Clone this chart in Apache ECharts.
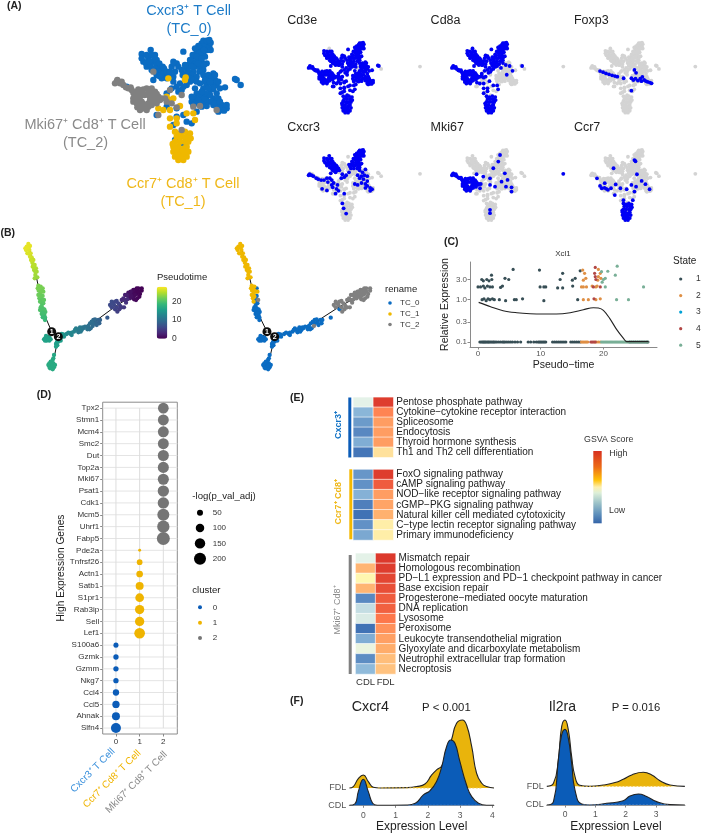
<!DOCTYPE html>
<html><head><meta charset="utf-8">
<script src="https://cdn.jsdelivr.net/npm/echarts@6/dist/echarts.min.js"></script>
<style>html,body{margin:0;padding:0;background:#fff;overflow:hidden}#c{width:709px;height:834px}</style>
</head><body><div id="c"></div>
<script>
// ---------- Panel A: UMAP embedding (UMAP units) ----------
const tc0Top=[[615,125],[625,130],[605,130],[615,140],[600,145],[622,150],[590,155],[610,160],[600,170],[585,170],[615,170],[590,185],[575,185],[605,185],[565,195],[585,200],[600,200],[620,190],[570,180],[560,205],[580,215],[610,210],[628,140],[595,138],[578,165],[598,215],[610,122],[620,122],[632,128],[600,158],[612,150],[590,170],[605,175],[575,200],[595,190],[612,195],[565,215],[555,195],[632,150],[585,145],[628,120]];
const tc0UpperLeft=[[425,162],[452,150],[465,165],[430,185],[445,175],[460,185],[440,200],[470,195],[455,210],[480,205],[490,215],[470,225],[485,235],[495,225],[460,240],[470,180],[505,225],[478,190],[488,200],[440,165],[455,165],[425,175],[438,190],[452,195],[465,205],[475,215],[485,222],[478,228],[492,205],[500,215],[465,215],[448,185],[462,170]];
const tc0Center=[[520,185],[530,190],[515,200],[525,215],[550,155],[545,210],[560,220],[575,225],[590,230],[570,245],[540,250],[555,235],[545,270],[530,260],[520,245],[500,235],[515,265],[380,260],[500,280],[522,190],[535,200],[548,225],[565,232],[580,240],[560,255],[535,275],[550,260],[520,230],[510,215]];
const tc0Right=[[640,220],[625,235],[610,225],[635,250],[650,255],[620,255],[600,250],[590,280],[610,265],[630,270],[650,280],[640,295],[620,290],[600,300],[585,295],[575,305],[610,310],[625,305],[650,305],[665,315],[675,322],[665,330],[650,320],[640,315],[680,325],[600,285],[660,265],[675,262],[645,240],[710,240],[722,255],[705,237],[615,245],[585,265],[630,285],[612,295],[640,268],[655,295],[625,225],[635,232],[645,225],[655,245],[640,262],[625,265],[615,280],[605,275],[595,300],[590,310],[605,320],[620,318],[635,305],[645,310],[660,305],[670,318],[680,315],[658,322],[672,332],[655,335],[615,240],[630,245],[590,245],[575,290],[580,315]];
const tc0Low=[[575,370],[560,365],[550,345],[530,350],[520,375],[545,430],[525,420],[590,335],[500,320],[530,325],[470,345]];
const tc1Stem=[[535,480],[550,480],[525,470],[545,470],[560,470],[520,455],[535,455],[550,460],[565,455],[520,440],[535,440],[552,445],[560,440],[525,425],[565,425],[555,425],[560,410],[570,400],[545,410],[530,410],[555,395],[525,395],[540,400],[572,415],[518,432],[540,468],[530,462],[548,452],[528,448],[540,425]];
const tc1Mid=[[510,380],[530,370],[510,355],[530,355],[560,340],[580,340],[555,240],[557,232],[510,300],[520,295],[500,290],[475,325],[490,330],[510,330],[540,318],[585,360],[505,235]];
const tc2Arm=[[350,245],[360,250],[345,250],[370,255],[385,265],[395,270],[410,275],[425,275],[440,265],[455,265],[465,275],[475,290],[465,300],[445,285],[420,290],[400,295],[410,310],[430,312],[445,320],[420,330],[440,330],[455,315],[470,310],[480,300],[495,295],[410,285],[425,305],[412,322],[458,290],[450,270],[403,282],[433,285],[352,240],[365,245],[378,262],[392,262],[400,278],[415,268],[430,268],[445,272],[460,282],[470,282],[405,300],[400,305],[415,300],[415,315],[430,325],[445,310],[450,300],[437,320],[425,322],[455,305],[468,290],[485,295]];
const tc2Scatter=[[500,305],[515,310],[510,270],[545,285],[580,320],[600,318],[650,330],[475,345],[545,390],[460,215],[530,322]];
const umapLone=[[924,243]];
const umapTC0=[...tc0Top,...tc0UpperLeft,...tc0Center,...tc0Right,...tc0Low];
const umapTC1=[...tc1Stem,...tc1Mid];
const umapTC2=[...tc2Arm,...tc2Scatter];
const umapAll=[...umapTC0,...umapTC1,...umapTC2];
const cd8aExpr=[...tc0Top,...tc0UpperLeft,...tc0Center,...tc2Arm,...tc1Stem,...tc1Mid,[645,240],[660,265],[610,225],[625,235],[590,230],[600,250],[710,240],[630,285]];
const foxp3Expr=[[395,266],[412,272],[428,278],[445,283],[462,288],[478,292],[491,295],[526,303],[586,260],[595,275],[569,367],[569,303],[580,312],[592,305],[605,315],[618,305],[630,296],[640,312],[650,318],[660,322],[672,325],[681,329],[625,318]];
const cxcr3Expr=[...tc0Top,...tc0UpperLeft,...tc2Arm.slice(0,14),[415,320],[440,328],[470,312],[495,300],[540,250],[555,235],[520,245],[530,260],[515,265],[625,235],[610,225],[640,220],[650,255],[620,255],[635,250],[600,250],[610,265],[630,270],[650,280],[640,295],[620,290],[600,300],[585,295],[650,305],[665,315],[675,322],[665,330],[640,315],[500,330],[490,320],[530,345],[485,345],[520,395],[527,420],[540,447]];
const mki67Expr=[...tc2Arm,[595,146],[586,180],[560,214],[620,240],[543,266],[508,257],[473,245],[634,274],[603,283],[655,312],[626,309],[655,334],[543,300],[569,309],[543,428],[543,445],[491,317]];
const ccr7Expr=[...tc1Stem,[586,172],[592,178],[470,214],[600,245],[378,266],[421,291],[482,297],[439,325],[404,317],[456,317],[508,317],[543,322],[569,300],[595,309],[586,334],[626,279],[647,296],[670,322],[477,352],[577,378],[525,378],[420,315],[430,320],[395,305]];
const cd3eOff=[[452,150],[490,215],[722,255],[600,250]];
const cd3eExpr=umapAll.filter(p=>!cd3eOff.some(o=>o[0]===p[0]&&o[1]===p[1]));

// ---------- Panel B: trajectory [x, y, pseudotime, cluster] ----------
const trajectoryCells=[[85,72,27,1],[80,80,27,1],[90,78,27,1],[78,90,26.8,1],[88,90,26.7,1],[82,100,26.5,1],[92,100,26.4,1],[95,112,26,1],[100,120,25.6,1],[97,128,25.3,1],[104,135,25,1],[108,145,24.6,1],[102,150,24.5,1],[110,155,24.2,1],[106,165,24,1],[112,172,23.6,1],[115,197,22.5,1],[122,200,22.3,1],[128,205,22.2,0],[116,212,22,1],[130,215,21.9,1],[120,222,21.7,1],[128,228,21.5,0],[118,235,21.2,1],[132,240,21,2],[125,248,20.6,0],[122,262,20.2,0],[130,270,20,0],[125,282,19.5,0],[133,285,19.3,0],[128,292,19,0],[135,300,18.8,0],[122,212,22,1],[136,276,19.8,0],[124,270,20.1,0],
[84,82,27,1],[76,85,27,1],[86,100,26.5,1],[90,110,26.2,1],[93,120,25.8,1],[98,140,25,1],[102,142,24.8,1],[106,155,24.3,1],[100,135,25.1,1],[104,175,23.8,1],[113,205,22.4,1],[118,205,22.3,1],[125,215,22,1],[115,225,21.7,1],[122,230,21.5,1],[127,240,21,0],[120,245,20.8,1],[130,250,20.6,0],[125,258,20.3,0],[128,265,20.1,0],[120,270,20,0],[133,268,20,0],[127,278,19.6,0],[135,292,19,0],[130,280,19.5,0],
[140,350,16,0],[135,355,16,0],[148,352,16,0],[140,362,16,0],[148,362,16,0],[135,362,16,0],[142,355,16,0],[138,348,16,0],[145,358,16,0],[152,358,16,0],[132,358,16,0],
[180,345,15,0],[185,350,15,0],[190,343,14.5,0],[172,360,15.5,0],[180,358,15.3,0],[170,368,15.5,0],[178,352,15,0],[185,342,15,0],[192,350,14.6,0],[175,365,15.5,0],[182,362,15.4,0],[168,372,15.6,0],[172,376,15.7,0],
[168,380,16,0],[162,405,16.5,0],[160,415,16.8,0],[155,430,17,0],[150,435,17,0],[160,430,17,0],[153,442,17,0],[162,442,17,0],[148,440,17,0],[158,420,16.9,0],[152,425,17,0],[148,430,17,0],[158,438,17,0],[145,435,17,0],[150,445,17,0],[158,448,17,0],[165,435,17,0],
[200,342,13.5,0],[212,342,13,0],[222,335,12.5,0],[232,330,12,0],[240,322,11.5,0],[245,330,11.3,0],[235,337,11.6,0],[228,325,12,0],[250,325,11,0],[262,322,10.5,0],[270,310,10,0],[280,300,9.6,0],[278,318,9.7,2],[268,328,10,0],[288,308,9.2,0],[295,300,9,0],[298,310,8.8,0],[322,293,8,0],[205,338,13.3,0],[215,338,12.9,0],[225,330,12.3,0],[238,328,11.7,0],[242,335,11.4,0],[248,322,11,0],[255,320,10.8,0],[265,318,10.3,0],[272,325,10,0],[280,312,9.7,0],[285,298,9.4,0],[275,305,9.9,0],[290,315,9.2,0],[300,300,8.8,0],[262,328,10.5,0],[215,345,12.9,0],
[335,245,6.5,2],[342,255,6,2],[350,243,5.8,2],[330,255,6.3,2],[345,268,5.5,0],[360,258,5,2],[352,275,5.2,2],[372,262,4.5,2],[375,240,4,2],[385,230,3,2],[395,215,1,2],[405,210,.5,2],[415,205,.3,2],[425,212,.2,2],[410,222,.5,2],[398,228,1,2],[390,235,1.5,2],[402,238,.8,2],[412,235,.5,2],[385,218,1.5,2],[420,222,.2,2],[375,225,2.5,2],[365,240,3.5,2],[400,220,.7,2],[390,222,1.2,2],[408,215,.4,2],[400,232,.9,2],[338,250,6.3,2],[345,245,6,2],[355,250,5.6,2],[335,262,6,2],[350,262,5.6,2],[358,268,5,2],[365,262,4.8,2],[378,248,4,2],[382,238,3.3,2],[390,225,1.6,2],[395,228,1.2,2],[405,225,.7,2],[415,215,.3,2],[400,210,.6,2],[410,205,.4,2],[425,205,.1,2],[418,230,.3,2],[408,240,.6,2],[392,215,1.3,2],[380,225,2.4,2],[370,235,3.2,2]];
const treeMain=[[85,72],[110,175],[125,250],[140,300],[155,335],[175,350],[210,340],[280,308],[345,260],[400,225]];
const treeBranchDown=[[175,350],[165,400],[155,435]];
const treeBranchStub=[[155,335],[140,355]];
const branchNodes=[[155,335,'1'],[175,350,'2']];
const viridis=['#440154','#482878','#3E4A89','#31688E','#26828E','#1F9E89','#35B779','#6DCD59','#B4DE2C','#FDE725'];

// ---------- Panel C: Xcl1 expression against pseudo-time ----------
const state1LowX=[.3,.5,.7,.85,1,1.15,1.3,1.5,1.65,1.8,2,2.2,2.4,2.55,2.75,3,3.3,3.6,3.9,4.1,4.3,4.6,4.9,5.2,5.5,5.9,6.3,6.8,8,8.4,8.9,9.3,9.6,9.8,10,10.2,10.4,10.6,10.8,11.9,12.2,12.5,12.8,13.1,13.4,13.7,14,14.8,15.1,15.4,15.7,16,16.3,24.2,24.5,24.8,25.1,25.4,25.7,26,26.3,26.6,26.9,27.1];
const state1High=[[0,2],[.4,2],[.85,2.1],[1.1,1.9],[1.5,2.1],[1.9,2],[2.3,2],[3.6,1.95],[3.9,2.1],[.6,3],[.85,2.8],[1.4,3],[1.75,2.8],[2.2,3],[4.3,3.2],[4.9,3],[2.15,3.8],[5.6,5.2],[9.8,5],[9.9,2],[10.5,2],[10.8,2],[13.1,3],[13.5,4.2],[12.7,1.9],[13.5,1.9],[15.1,2.1],[15.05,2.9],[15.5,3.2],[16.3,4.8],[.65,1],[.95,1.05],[1.3,.95],[1.6,1.05],[1.9,1],[2.3,1.05],[2.6,1],[3.4,1],[4.4,.95],[5.8,1],[6.1,1],[7.1,1.05],[10.5,.95],[15.9,1]];
const state2LowX=[16.5,16.7,16.9,17.1,17.3,17.5,18.6,18.9,19.2,19.5];
const state2High=[[16.7,5],[17,4.2],[16.8,2.9],[17.2,3.2],[16.5,2],[16.8,2],[17.3,2],[18.2,2.1],[18.8,2],[19.1,2.9],[19.2,5.2],[19.5,4.2],[19.2,3.5],[19.6,3.2],[19,2.1],[16.8,1],[17.6,1],[18.8,1],[19.5,1.05]];
const state3LowX=[];
const state4LowX=[18,18.2,18.4,18.7];
const state4High=[[18.7,5.8],[18.6,4.2],[18.7,3.5],[18.8,3],[18.4,2],[18.5,1.05],[19.5,2]];
const state5LowX=[19.7,19.9,20.1,20.3,20.5,20.7,20.9,21.1,21.3,21.5,21.7,21.9,22.1,22.3,22.5,22.7,22.9,23.1,23.3,23.5,23.7,23.9,24.1,24.3,24.6,24.9,25.2,25.5,25.8,26.1,26.4,26.7,27];
const state5High=[[19.7,4.6],[20.7,4.7],[22.2,6.2],[21.9,3.8],[20,3],[20.3,3.2],[19.8,2.6],[20.3,2],[22.1,1],[24,1],[26.4,2]];
const xcl1Curve=[[.1,.865],[2,.683],[4,.55],[6.2,.493],[8.3,.467],[10.4,.459],[12.5,.459],[14.7,.493],[16.8,.58],[18.4,.647],[19.2,.636],[20,.56],[21,.362],[22.1,.199],[23.2,.122],[23.7,.102],[27.2,.102]];
const stateColors=['#374E55','#DF8F44','#00A1D5','#B24745','#79AF97'];

// ---------- Panel D: marker-gene dot plot ----------
const dotGenes=['Tpx2','Stmn1','Mcm4','Smc2','Dut','Top2a','Mki67','Psat1','Cdk1','Mcm5','Uhrf1','Fabp5','Pde2a','Tnfrsf26','Actn1','Satb1','S1pr1','Rab3ip','Sell','Lef1','S100a6','Gzmk','Gzmm','Nkg7','Ccl4','Ccl5','Ahnak','Slfn4'];
const dotValues=[158,165,165,165,170,170,170,177,177,199,209,234,12,45,62,88,105,120,120,158,35,39,39,39,55,74,88,138];
const dotClusters=[2,2,2,2,2,2,2,2,2,2,2,2,1,1,1,1,1,1,1,1,0,0,0,0,0,0,0,0];
const sizeLegend=[50,100,150,200];

// ---------- Panel E: GSVA heatmaps ----------
const cxcr3Paths=['Pentose phosphate pathway','Cytokine−cytokine receptor interaction','Spliceosome','Endocytosis','Thyroid hormone synthesis','Th1 and Th2 cell differentiation'];
const cxcr3CDL=[.33,.16,.1,.06,.14,.02];
const cxcr3FDL=[.97,.8,.72,.72,.72,.55];
const ccr7Paths=['FoxO signaling pathway','cAMP signaling pathway','NOD−like receptor signaling pathway','cGMP−PKG signaling pathway','Natural killer cell mediated cytotoxicity','C−type lectin receptor signaling pathway','Primary immunodeficiency'];
const ccr7CDL=[.09,.08,.15,.04,.01,.08,.13];
const ccr7FDL=[.97,.9,.72,.7,.66,.52,.52];
const mki67Paths=['Mismatch repair','Homologous recombination','PD−L1 expression and PD−1 checkpoint pathway in cancer','Base excision repair','Progesterone−mediated oocyte maturation','DNA replication','Lysosome','Peroxisome','Leukocyte transendothelial migration','Glyoxylate and dicarboxylate metabolism','Neutrophil extracellular trap formation','Necroptosis'];
const mki67CDL=[.33,.65,.5,.65,.06,.27,.31,.01,.14,.36,.07,.17];
const mki67FDL=[.98,.97,.95,.93,.9,.89,.84,.76,.71,.67,.63,.62];
const gsvaColors=['#3B6DB3','#8DB9DA','#E6F3E8','#FFF7B0','#FFAE6C','#FF7A4D','#D73027'];
const gsvaBarStops=[[0,'#D7301F'],[.22,'#EC6A17'],[.4,'#FFC107'],[.5,'#FDF0B0'],[.58,'#DDEFD9'],[.72,'#9CC2C8'],[.88,'#5C8EBB'],[1,'#3564A8']];
const groupLabels=['CDL','FDL'];

// ---------- Panel F: ridgelines ----------
const cxcr4FDL=[[-.43,1],[-.31,1.08],[-.155,1.54],[0,1.75],[.155,1.37],[.31,1.04],[.52,1],[1.35,1.02],[1.65,1.08],[1.91,1.23],[2.12,1.75],[2.27,2.04],[2.43,2.27],[2.58,3],[2.73,3.77],[2.89,4.73],[3.07,4.92],[3.2,4.63],[3.36,3.38],[3.51,1.85],[3.67,1.27],[3.82,1.08],[4.05,1]];
const cxcr4CDL=[[-.43,0],[-.26,.08],[-.155,.79],[0,1.5],[.155,.79],[.29,.12],[.43,0],[1.35,.02],[1.61,.12],[1.86,.6],[2.07,.85],[2.27,1.37],[2.43,2.23],[2.58,3.38],[2.71,3.77],[2.84,3.58],[2.98,2.62],[3.2,1.17],[3.36,.5],[3.57,.12],[3.82,0],[4.05,0]];
const il2raFDL=[[-.6,1],[-.38,1.16],[-.22,2.41],[-.11,4.2],[0,4.55],[.11,4.02],[.22,2.59],[.33,1.52],[.49,1.05],[.82,1],[1.26,1.07],[1.65,1.2],[1.92,1.38],[2.2,1.61],[2.58,1.75],[2.86,1.61],[3.13,1.3],[3.46,1.07],[3.95,1]];
const il2raCDL=[[-.6,0],[-.38,.18],[-.22,2.41],[-.11,3.75],[0,4.05],[.11,3.57],[.22,2.23],[.33,.8],[.55,.05],[.82,0],[1.37,.09],[1.92,.23],[2.14,.48],[2.42,.59],[2.69,.45],[3.02,.18],[3.46,.02],[3.95,0]];
const cxcr4Rug=[[.45,3.7],[1.4,3.6]];
const il2raRug=[[.45,3.5],[.6,3.4]];

// ---------- colours ----------
const BLUE='#0B6CC2', GOLD='#EFB800', GRAY='#808080', DOTBLUE='#0B5CB8', DOTGRAY='#757575';
const FONT='"Liberation Sans", Arial, sans-serif';

// ---------- builders ----------
const grid=[],xAxis=[],yAxis=[],series=[],graphic=[];
function panel(g,x,y){grid.push(g);xAxis.push(Object.assign({gridIndex:grid.length-1},x));yAxis.push(Object.assign({gridIndex:grid.length-1},y));return grid.length-1;}
function add(s){series.push(Object.assign({animation:false,silent:true},s));return series.length-1;}
function pts(name,i,data,color,size){return add({name,type:'scatter',xAxisIndex:i,yAxisIndex:i,data,symbolSize:size,itemStyle:{color,opacity:1}});}
function txt(text,x,y,o={}){graphic.push({type:'text',x,y,rotation:o.rot||0,silent:true,z:50,style:{text,x:0,y:0,fill:o.color||'#222',font:`${o.weight||'normal'} ${o.size||10}px ${FONT}`,align:o.align||'left',verticalAlign:'middle'}});}
function dot(x,y,d,color){graphic.push({type:'circle',x,y,silent:true,z:50,shape:{cx:0,cy:0,r:d/2},style:{fill:color}});}
function box(x,y,w,h,color){graphic.push({type:'rect',silent:true,z:50,shape:{x,y,width:w,height:h},style:{fill:color}});}
const hidden=(min,max,extra={})=>Object.assign({type:'value',show:false,min,max},extra);

// Panel A large
const big=panel({left:0,top:0,width:280,height:220},hidden(0,840),hidden(0,660,{inverse:true}));
pts('TC_0',big,umapTC0,BLUE,6.4);pts('TC_1',big,umapTC1,GOLD,6.4);pts('TC_2',big,umapTC2,GRAY,6.4);
txt('(A)',7,6,{weight:'bold',size:10.5});
txt('Cxcr3⁺ T Cell',188.7,10.5,{size:14.5,color:'#1E7CC8',align:'center'});
txt('(TC_0)',189,28.5,{size:14.5,color:'#1E7CC8',align:'center'});
txt('Mki67⁺ Cd8⁺ T Cell',85,125,{size:14.5,color:'#8A8A8A',align:'center'});
txt('(TC_2)',85.5,143,{size:14.5,color:'#8A8A8A',align:'center'});
txt('Ccr7⁺ Cd8⁺ T Cell',183,183.5,{size:14.5,color:'#EFB81A',align:'center'});
txt('(TC_1)',183,201.5,{size:14.5,color:'#EFB81A',align:'center'});

// Panel A small multiples
const genes=[['Cd3e',cd3eExpr,0,0,false],['Cd8a',cd8aExpr,1,0,false],['Foxp3',foxp3Expr,2,0,false],['Cxcr3',cxcr3Expr,0,1,false],['Mki67',mki67Expr,1,1,true],['Ccr7',ccr7Expr,2,1,false]];
genes.forEach(([name,expr,c,r,loneOn])=>{
  const ox=143.3*c, oy=107.3*r;
  const i=panel({left:242.3+ox,top:19.3+oy,width:192.3,height:128.4},hidden(0,1000),hidden(0,660,{inverse:true}));
  pts(name+' off',i,[...umapAll,...umapLone],'#D3D3D3',3.8);
  pts(name+' on',i,loneOn?[...expr,...umapLone]:expr,'#0000F5',3.8);
  txt(name,287.3+ox,20.7+oy,{size:12.5,color:'#222'});
});

// Panel B
const trL=panel({left:0,top:220,width:146.7,height:155},hidden(0,440),hidden(0,465,{inverse:true}));
const trR=panel({left:207.8,top:220,width:168,height:155},hidden(0,440),hidden(0,465,{inverse:true}));
[trL,trR].forEach(i=>{[treeMain,treeBranchDown,treeBranchStub].forEach((d,k)=>add({name:'tree'+i+k,type:'line',xAxisIndex:i,yAxisIndex:i,data:d,symbol:'none',z:1,lineStyle:{color:'#111',width:1}}));});
const trajSeries=pts('Pseudotime',trL,trajectoryCells,'#000',4.3);
pts('TC_0 path',trR,trajectoryCells.filter(p=>p[3]===0),BLUE,4.3);
pts('TC_1 path',trR,trajectoryCells.filter(p=>p[3]===1),GOLD,4.3);
pts('TC_2 path',trR,trajectoryCells.filter(p=>p[3]===2),GRAY,4.3);
[trL,trR].forEach(i=>add({name:'nodes'+i,type:'scatter',xAxisIndex:i,yAxisIndex:i,data:branchNodes,symbolSize:9,z:5,itemStyle:{color:'#0D0D0D',opacity:1},label:{show:true,position:'inside',formatter:p=>p.value[2],color:'#fff',fontSize:7,fontWeight:'bold'}}));
txt('(B)',0.5,232.7,{weight:'bold',size:10.5});
txt('Pseudotime',157,277.7,{size:9.5});
txt('20',172,301.7,{size:8.5,color:'#333'});txt('10',172,320,{size:8.5,color:'#333'});txt('0',172,339,{size:8.5,color:'#333'});
txt('rename',385,289,{size:9.5});
[['TC_0',BLUE,303],['TC_1',GOLD,314],['TC_2',GRAY,324.5]].forEach(([t,c,y])=>{dot(390,y,3.6,c);txt(t,400,y,{size:8,color:'#333'});});

// Panel C
const axisGray='#8A8A8A';
const cI=panel({left:470,top:262,width:187,height:85},
 {type:'value',min:-1.28,max:28.55,name:'Pseudo−time',nameLocation:'middle',nameGap:13,nameTextStyle:{fontSize:10.5,color:'#222'},axisLine:{onZero:false,lineStyle:{color:axisGray}},axisTick:{show:true,customValues:[0,10,20],length:2.5,lineStyle:{color:axisGray}},axisLabel:{customValues:[0,10,20],fontSize:8,color:'#555',margin:3},splitLine:{show:false}},
 {type:'log',logBase:10,min:.0762,max:7.78,name:'Relative Expression',nameLocation:'middle',nameGap:19,nameTextStyle:{fontSize:10.5,color:'#222'},axisLine:{show:true,onZero:false,lineStyle:{color:axisGray}},axisTick:{show:true,customValues:[.1,.3,1,3],length:2.5,lineStyle:{color:axisGray}},axisLabel:{customValues:[.1,.3,1,3],fontSize:8,color:'#555',margin:3,formatter:v=>Number(v).toFixed(1)},splitLine:{show:false}});
const low=xs=>xs.map(x=>[x,.1]);
pts('State 1',cI,[...low(state1LowX),...state1High],stateColors[0],3.2);
pts('State 2',cI,[...low(state2LowX),...state2High],stateColors[1],3.2);
pts('State 3',cI,low(state3LowX),stateColors[2],3.2);
pts('State 4',cI,[...low(state4LowX),...state4High],stateColors[3],3.2);
pts('State 5',cI,[...low(state5LowX),...state5High],stateColors[4],3.2);
add({name:'Xcl1 fit',type:'line',xAxisIndex:cI,yAxisIndex:cI,data:xcl1Curve,symbol:'none',smooth:.35,lineStyle:{color:'#222',width:1.1},z:4});
txt('(C)',444,241.7,{weight:'bold',size:10.5});
txt('Xcl1',563,254,{size:8,align:'center',color:'#333'});
txt('State',673,261,{size:10});
stateColors.forEach((c,k)=>{const y=279+k*16.55;dot(680.7,y,3.2,c);txt(String(k+1),696,y,{size:8.5,color:'#333'});});

// Panel D
const dI=panel({left:102.7,top:402.2,width:74.6,height:331.8,show:true,borderColor:'#8C8C8C',borderWidth:1,backgroundColor:'#fff'},
 {type:'value',min:-.56,max:2.59,axisLine:{show:false,onZero:false},axisTick:{show:true,customValues:[0,1,2],length:2.5,lineStyle:{color:'#888'}},axisLabel:{customValues:[0,1,2],fontSize:8,color:'#333',margin:3.5},splitLine:{show:false}},
 {type:'category',inverse:true,data:dotGenes,name:'High Expression Genes',nameLocation:'middle',nameGap:35,nameTextStyle:{fontSize:10.2,color:'#222'},axisLine:{show:false,onZero:false},axisTick:{show:true,alignWithLabel:true,length:2.5,lineStyle:{color:'#888'}},axisLabel:{fontSize:8,color:'#333',margin:3.5,interval:0},splitLine:{show:false}});
const dCols=[DOTBLUE,'#EFB400',DOTGRAY];
dotGenes.forEach((g,k)=>add({name:'h'+k,type:'line',xAxisIndex:dI,yAxisIndex:dI,data:[[-.56,g],[2.59,g]],symbol:'none',z:1,lineStyle:{color:'#E4E4E4',width:1}}));
[0,1,2].forEach(k=>add({name:'x'+k,type:'line',xAxisIndex:dI,yAxisIndex:dI,data:[[k,dotGenes[0]],[k,dotGenes[27]]],symbol:'none',z:1,lineStyle:{color:'#DDD',width:1}}));
[0,1,2].forEach(k=>add({name:'cluster '+k,type:'scatter',xAxisIndex:dI,yAxisIndex:dI,
  data:dotGenes.map((g,j)=>[dotClusters[j],g,dotValues[j]]).filter(d=>d[0]===k),
  symbolSize:d=>.85*Math.sqrt(d[2]),itemStyle:{color:dCols[k],opacity:1},z:3}));
txt('(D)',36.7,395,{weight:'bold',size:10.5});
txt('Cxcr3⁺ T Cell',113.3,750,{size:10,color:'#3A90DC',align:'right',rot:Math.PI/4});
txt('Ccr7⁺ Cd8⁺ T Cell',139.3,751.7,{size:10,color:'#EFB400',align:'right',rot:Math.PI/4});
txt('Mki67⁺ Cd8⁺ T Cell',165.7,753,{size:10,color:'#8A8A8A',align:'right',rot:Math.PI/4});
txt('-log(p_val_adj)',192.3,496.7,{size:9.6});
sizeLegend.forEach((v,k)=>{const y=512.7+k*15.35;dot(200,y,.85*Math.sqrt(v),'#000');txt(String(v),212.7,y,{size:8,color:'#333'});});
txt('cluster',192.3,590.7,{size:9.6});
dCols.forEach((c,k)=>{const y=607.3+k*15.35;dot(200,y,4,c);txt(String(k),212.7,y,{size:8,color:'#333'});});

// Panel E
function heat(top,h,left,rows,cdl,fdl,showX){
  const i=panel({left,top,width:40,height:h},
    {type:'category',data:groupLabels,axisLine:{show:false},axisTick:{show:false},axisLabel:{show:showX,fontSize:9.5,color:'#333',margin:3,interval:0}},
    {type:'category',inverse:true,position:'right',data:rows,axisLine:{show:false},axisTick:{show:false},axisLabel:{fontSize:10,color:'#222',margin:3,interval:0,lineHeight:10}});
  const data=[];rows.forEach((r,j)=>{data.push([0,j,cdl[j]]);data.push([1,j,fdl[j]]);});
  return add({name:'GSVA'+i,type:'heatmap',xAxisIndex:i,yAxisIndex:i,data,itemStyle:{borderColor:'#fff',borderWidth:.6}});
}
const heatIdx=[heat(397.3,60,353.3,cxcr3Paths,cxcr3CDL,cxcr3FDL,false),heat(469.5,70.5,353.3,ccr7Paths,ccr7CDL,ccr7FDL,false),heat(553.3,120.7,355.6,mki67Paths,mki67CDL,mki67FDL,true)];
box(348.3,397.5,3,60,'#0B5CB8');box(349.3,469.3,3,70,'#F4B800');box(348.7,555,3,119,'#808080');
txt('(E)',290,397.7,{weight:'bold',size:10.5});
txt('Cxcr3⁺',339,425,{size:9,weight:'bold',color:'#1273C6',align:'center',rot:Math.PI/2});
txt('Ccr7⁺ Cd8⁺',339,501.7,{size:9,weight:'bold',color:'#EFB81A',align:'center',rot:Math.PI/2});
txt('Mki67⁺ Cd8⁺',338,610,{size:9,color:'#8A8A8A',align:'center',rot:Math.PI/2});
txt('GSVA Score',608.7,439.3,{size:8.8,align:'center',color:'#333'});
txt('High',609.3,454,{size:8.8,color:'#333'});
txt('Low',609,510.7,{size:8.8,color:'#333'});
graphic.push({type:'rect',silent:true,z:50,shape:{x:593.3,y:451,width:8.4,height:72.3},style:{fill:new echarts.graphic.LinearGradient(0,0,0,1,gsvaBarStops.map(([offset,color])=>({offset,color})))}});

// Panel F
function ridge(name,left,width,xmin,xmax,ymax,bottom,height,fdl,cdl,ticks,rug){
  const i=panel({left,top:bottom-height,width,height},
   {type:'value',min:xmin,max:xmax,name:'Expression Level',nameLocation:'middle',nameGap:15,nameTextStyle:{fontSize:12,color:'#222'},axisLine:{onZero:false,lineStyle:{color:'#999'}},axisTick:{show:true,customValues:ticks,length:2.5,lineStyle:{color:'#888'}},axisLabel:{customValues:ticks,fontSize:8.5,color:'#555',margin:5.5},splitLine:{show:false}},
   {type:'value',min:0,max:ymax,axisLine:{show:false,onZero:false},axisTick:{show:false},splitLine:{show:false},axisLabel:{customValues:[0,1],fontSize:9,color:'#555',margin:3,formatter:v=>v===0?'CDL':'FDL'}});
  add({name:name+' FDL',type:'line',xAxisIndex:i,yAxisIndex:i,data:fdl,symbol:'none',smooth:.5,lineStyle:{color:'#222',width:1.1},areaStyle:{origin:1,color:'#E9B40C',opacity:1},z:2});
  add({name:name+' FDL rug',type:'line',xAxisIndex:i,yAxisIndex:i,data:[[rug[0][0],1],[rug[0][1],1]],symbol:'none',z:2,lineStyle:{color:'#F3C94A',width:1,type:[2,1.5]}});
  add({name:name+' CDL',type:'line',xAxisIndex:i,yAxisIndex:i,data:cdl,symbol:'none',smooth:.5,lineStyle:{color:'#222',width:1.1},areaStyle:{origin:0,color:'#0B5CB8',opacity:1},z:3});
  add({name:name+' CDL rug',type:'line',xAxisIndex:i,yAxisIndex:i,data:[[rug[1][0],0],[rug[1][1],0]],symbol:'none',z:3,lineStyle:{color:'#5E8FCB',width:1,type:[2,1.5]}});
}
ridge('Cxcr4',349.3,144.7,-.434,4.05,5.21,805.3,90.3,cxcr4FDL,cxcr4CDL,[0,1,2,3,4],cxcr4Rug);
ridge('Il2ra',546.7,138.3,-.603,3.955,4.82,805,90,il2raFDL,il2raCDL,[0,1,2,3],il2raRug);
txt('(F)',290,700.7,{weight:'bold',size:10.5});
txt('Cxcr4',351.7,706.7,{size:14.3});
txt('P < 0.001',422,707.7,{size:11.3});
txt('Il2ra',548.7,706.7,{size:14});
txt('P = 0.016',611.7,707.7,{size:11.3});

const chart=echarts.init(document.getElementById('c'),null,{renderer:'canvas'});
chart.setOption({animation:false,backgroundColor:'#fff',textStyle:{fontFamily:FONT},tooltip:{show:false},
 grid,xAxis,yAxis,series,graphic,
 visualMap:[
  {type:'continuous',seriesIndex:trajSeries,dimension:2,min:0,max:28,calculable:false,realtime:false,left:156.7,top:286.7,itemWidth:10.6,itemHeight:52,padding:0,text:['',''],textGap:0,inRange:{color:viridis}},
  {type:'continuous',seriesIndex:heatIdx,dimension:2,min:0,max:1,show:false,inRange:{color:gsvaColors}}
 ]});
</script></body></html>
